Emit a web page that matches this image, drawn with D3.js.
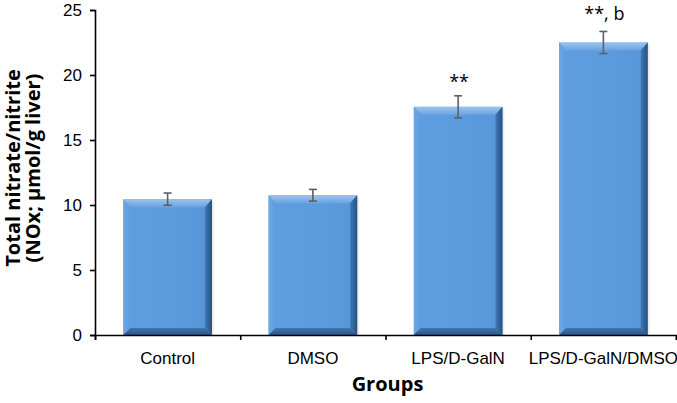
<!DOCTYPE html>
<html>
<head>
<meta charset="utf-8">
<script src="https://cdn.jsdelivr.net/npm/d3@7"></script>
<style>
  body { margin: 0; background: #fff; }
  svg { display: block; font-family: Lato, "Open Sans", sans-serif; }
</style>
</head>
<body>
<svg id="chart"></svg>
<script>
// data
var groups = ["Control", "DMSO", "LPS/D-GalN", "LPS/D-GalN/DMSO"];
var means = [10.45, 10.75, 17.55, 22.5];
var errors = [0.47, 0.45, 0.85, 0.85];
var marks = ["", "", "**", "**, b"];
var yTicks = [0, 5, 10, 15, 20, 25];

var W = 677, H = 403;
var margin = { top: 10, right: 1, bottom: 68, left: 95 };
var w = W - margin.left - margin.right,
    h = H - margin.top - margin.bottom;

var svg = d3.select("#chart").attr("width", W).attr("height", H);

// gradients for the bevelled bars
var defs = svg.append("defs");
function grad(id, x2, y2, stops) {
  var g = defs.append("linearGradient").attr("id", id)
    .attr("x1", 0).attr("y1", 0).attr("x2", x2).attr("y2", y2);
  stops.forEach(function(s) {
    g.append("stop").attr("offset", s[0]).attr("stop-color", s[1]);
  });
}
grad("face", 1, 0, [[0, "#5e9ee0"], [0.5, "#5b9cde"], [1, "#5696d9"]]);
grad("bevTop", 0, 1, [[0, "#98c5f0"], [1, "#6aa3e0"]]);
grad("bevLeft", 1, 0, [[0, "#6ca8e6"], [1, "#5d9cdf"]]);
grad("bevRight", 1, 0, [[0, "#4179b6"], [1, "#24507f"]]);
grad("bevBottom", 0, 1, [[0, "#3f75b0"], [1, "#2a5688"]]);

var g = svg.append("g").attr("transform", "translate(" + margin.left + "," + margin.top + ")");

var x = d3.scaleBand().domain(groups).range([0, w]).paddingInner(0.39).paddingOuter(0.195);
var y = d3.scaleLinear().domain([0, 25]).range([h, 0]);
var edges = d3.scaleLinear().domain([0, groups.length]).range([0, w]);

// bars
var bev = 7;
var bars = g.selectAll(".bar").data(groups).join("g").attr("class", "bar");
bars.each(function(d, i) {
  var sel = d3.select(this);
  var x0 = x(d), x1 = x(d) + x.bandwidth(), y0 = y(means[i]), y1 = y(0);
  sel.append("rect").attr("x", x0 + 2).attr("y", y0 + 2).attr("width", x1 - x0).attr("height", y1 - y0 - 2)
    .attr("fill", "#000").attr("opacity", 0.08);
  sel.append("rect").attr("x", x0).attr("y", y0).attr("width", x1 - x0).attr("height", y1 - y0)
    .attr("fill", "url(#face)");
  var poly = function(pts, fill) {
    sel.append("polygon").attr("points", pts.map(function(p) { return p.join(","); }).join(" "))
      .attr("fill", fill);
  };
  poly([[x0, y0], [x1, y0], [x1 - bev, y0 + bev + 1], [x0 + bev, y0 + bev + 1]], "url(#bevTop)");
  poly([[x0, y0], [x0 + bev, y0 + bev + 1], [x0 + bev, y1 - bev], [x0, y1]], "url(#bevLeft)");
  poly([[x1, y0], [x1, y1], [x1 - bev, y1 - bev], [x1 - bev, y0 + bev + 1]], "url(#bevRight)");
  poly([[x0, y1], [x0 + bev, y1 - bev], [x1 - bev, y1 - bev], [x1, y1]], "url(#bevBottom)");
});

// error bars
var eb = g.selectAll(".err").data(groups).join("g").attr("class", "err")
  .attr("stroke", "#5f5f5f").attr("stroke-width", 1.6);
eb.append("line")
  .attr("x1", function(d) { return x(d) + x.bandwidth() / 2; })
  .attr("x2", function(d) { return x(d) + x.bandwidth() / 2; })
  .attr("y1", function(d, i) { return y(means[i] + errors[i]); })
  .attr("y2", function(d, i) { return y(means[i] - errors[i]); });
[1, -1].forEach(function(s) {
  eb.append("line")
    .attr("x1", function(d) { return x(d) + x.bandwidth() / 2 - 4; })
    .attr("x2", function(d) { return x(d) + x.bandwidth() / 2 + 4; })
    .attr("y1", function(d, i) { return y(means[i] + s * errors[i]); })
    .attr("y2", function(d, i) { return y(means[i] + s * errors[i]); });
});

// significance marks (the last one sits a bit higher in the original)
var markGap = [8, 8, 8, 11];
g.selectAll(".mark").data(groups).join("text").attr("class", "mark")
  .attr("x", function(d) { return x(d) + x.bandwidth() / 2 + 1; })
  .attr("y", function(d, i) { return y(means[i] + errors[i]) - markGap[i]; })
  .attr("text-anchor", "middle")
  .style("font-family", "'Open Sans', sans-serif")
  .style("font-size", "18px")
  .style("fill", "#000")
  .text(function(d, i) { return marks[i]; });

// y axis
var ya = g.append("g").call(d3.axisLeft(y).tickValues(yTicks).tickSize(5).tickPadding(8));
ya.selectAll("text").style("font-size", "17px").style("fill", "#000");

// x axis: boundary ticks + category labels
var xa = g.append("g").attr("transform", "translate(0," + h + ")")
  .call(d3.axisBottom(edges).tickValues(d3.range(groups.length + 1)).tickFormat("").tickSize(5));
g.append("g").attr("transform", "translate(0," + h + ")")
  .call(d3.axisBottom(x).tickSize(0).tickPadding(17))
  .call(function(a) { a.select(".domain").remove(); })
  .selectAll("text").style("font-size", "17px").style("fill", "#000");
svg.selectAll(".domain, .tick line").attr("stroke", "#000").attr("stroke-width", 1.6);

// axis titles
svg.append("text")
  .attr("x", margin.left + w / 2 + 2).attr("y", 391)
  .attr("text-anchor", "middle")
  .style("font-family", "'Open Sans', sans-serif")
  .style("font-size", "20px").style("font-weight", "bold")
  .text("Groups");

var yt = svg.append("text")
  .attr("transform", "translate(0,168) rotate(-90)")
  .attr("text-anchor", "middle")
  .style("font-family", "'Open Sans', sans-serif")
  .style("font-size", "20px").style("font-weight", "bold");
yt.append("tspan").attr("x", 0).attr("y", 20).text("Total nitrate/nitrite");
yt.append("tspan").attr("x", 0).attr("y", 40).text("(NOx; µmol/g liver)");
</script>
</body>
</html>
